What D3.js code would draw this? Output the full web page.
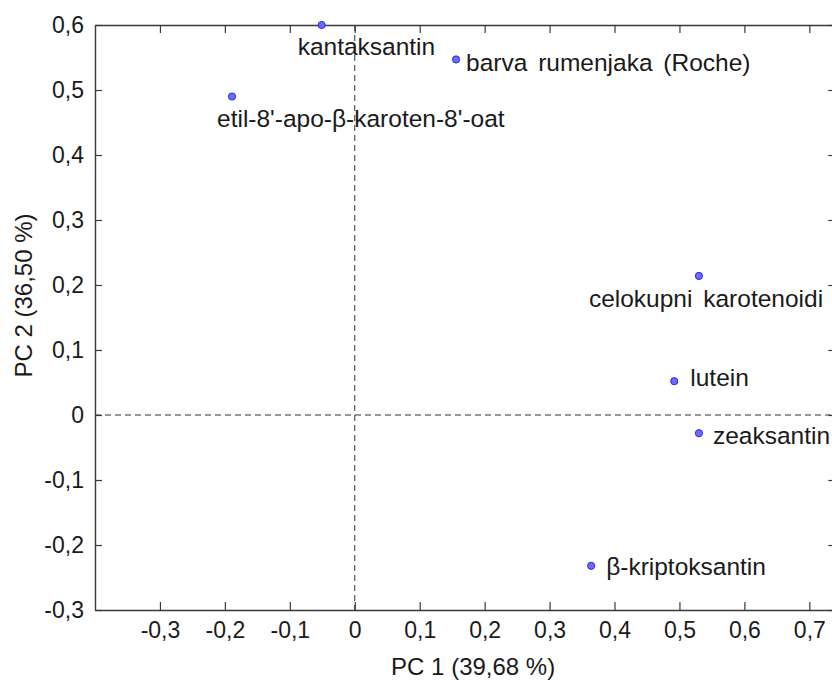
<!DOCTYPE html>
<html>
<head>
<meta charset="utf-8">
<script src="https://cdn.jsdelivr.net/npm/d3@7"></script>
<style>
  html, body { margin: 0; padding: 0; background: #fff; }
  svg { display: block; font-family: "Liberation Sans", Arial, sans-serif; }
</style>
</head>
<body>
<div id="chart"></div>
<script>
// PCA loadings of yolk pigment measurements
const names = [
  "kantaksantin",
  "barva rumenjaka (Roche)",
  "etil-8'-apo-β-karoten-8'-oat",
  "celokupni karotenoidi",
  "lutein",
  "zeaksantin",
  "β-kriptoksantin"
];
const pc1 = [-0.051, 0.156, -0.189, 0.530, 0.492, 0.530, 0.364];
const pc2 = [0.600, 0.547, 0.490, 0.214, 0.052, -0.028, -0.232];

const xTicks = [-0.3, -0.2, -0.1, 0, 0.1, 0.2, 0.3, 0.4, 0.5, 0.6, 0.7];
const xTickLabels = ["-0,3", "-0,2", "-0,1", "0", "0,1", "0,2", "0,3", "0,4", "0,5", "0,6", "0,7"];
const yTicks = [-0.3, -0.2, -0.1, 0, 0.1, 0.2, 0.3, 0.4, 0.5, 0.6];
const yTickLabels = ["-0,3", "-0,2", "-0,1", "0", "0,1", "0,2", "0,3", "0,4", "0,5", "0,6"];

const xTitle = "PC 1 (39,68 %)";
const yTitle = "PC 2 (36,50 %)";

// label placement relative to each marker, in pixels
const labelOffsets = [
  [-24, 30], [10, 12], [-15, 30], [-110, 31], [16, 5], [14, 11], [15, 9]
];

const W = 832, H = 680;
const svg = d3.select("#chart").append("svg").attr("width", W).attr("height", H);

const x = d3.scaleLinear().domain([-0.4, 0.74]).range([95, 835.3]);
const y = d3.scaleLinear().domain([-0.3, 0.6]).range([610, 25]);

const axisColor = "#3a3a3a";
const textColor = "#1a1a1a";
const tickFont = "23px";

// zero reference lines
svg.append("line")
  .attr("x1", x(0)).attr("x2", x(0)).attr("y1", y(0.6)).attr("y2", y(-0.3))
  .attr("stroke", "#333").attr("stroke-width", 1).attr("stroke-dasharray", "6,4");
svg.append("line")
  .attr("x1", x(-0.4)).attr("x2", x(0.74)).attr("y1", y(0)).attr("y2", y(0))
  .attr("stroke", "#333").attr("stroke-width", 1).attr("stroke-dasharray", "6,4");

function styleAxis(g) {
  g.select(".domain").attr("stroke", axisColor).attr("stroke-width", 1.4);
  g.selectAll(".tick line").attr("stroke", axisColor).attr("stroke-width", 1.2);
  g.selectAll(".tick text").attr("fill", textColor).style("font-size", tickFont);
}

// bottom axis with inward ticks
svg.append("g").attr("transform", `translate(0,${y(-0.3)})`)
  .call(d3.axisBottom(x).tickValues(xTicks)
    .tickFormat((d, i) => xTickLabels[i])
    .tickSizeInner(-8).tickSizeOuter(0).tickPadding(12))
  .call(styleAxis);

// top axis, ticks only
svg.append("g").attr("transform", `translate(0,${y(0.6)})`)
  .call(d3.axisTop(x).tickValues(xTicks).tickFormat("")
    .tickSizeInner(-8).tickSizeOuter(0))
  .call(styleAxis);

// left axis with inward ticks
svg.append("g").attr("transform", `translate(${x(-0.4)},0)`)
  .call(d3.axisLeft(y).tickValues(yTicks)
    .tickFormat((d, i) => yTickLabels[i])
    .tickSizeInner(-7).tickSizeOuter(0).tickPadding(11))
  .call(styleAxis);

// right axis, ticks only
svg.append("g").attr("transform", `translate(${x(0.74)},0)`)
  .call(d3.axisRight(y).tickValues(yTicks).tickFormat("")
    .tickSizeInner(-7).tickSizeOuter(0))
  .call(styleAxis);

// axis titles
svg.append("text")
  .attr("x", (x(-0.4) + x(0.74)) / 2 + 8).attr("y", 675)
  .attr("text-anchor", "middle").attr("fill", textColor)
  .style("font-size", "24px").text(xTitle);

svg.append("text")
  .attr("transform", `translate(32,${(y(0.6) + y(-0.3)) / 2 - 22}) rotate(-90)`)
  .attr("text-anchor", "middle").attr("fill", textColor)
  .style("font-size", "24px").text(yTitle);

// markers and labels
const pts = names.map((n, i) => ({ name: n, px: pc1[i], py: pc2[i], off: labelOffsets[i] }));

svg.append("g").selectAll("circle").data(pts).join("circle")
  .attr("cx", d => x(d.px)).attr("cy", d => y(d.py)).attr("r", 3.6)
  .attr("fill", "#6b6bff").attr("stroke", "#2a2ae6").attr("stroke-width", 1);

svg.append("g").selectAll("text").data(pts).join("text")
  .attr("x", d => x(d.px) + d.off[0]).attr("y", d => y(d.py) + d.off[1])
  .attr("fill", textColor)
  .style("font-size", "24.5px").style("word-spacing", "4px")
  .text(d => d.name);
</script>
</body>
</html>
